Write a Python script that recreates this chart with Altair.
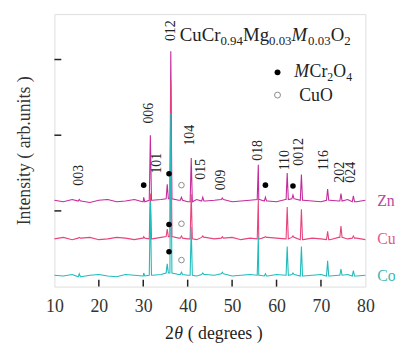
import altair as alt
import pandas as pd

# ---------------- data ----------------
grid_2theta = [10, 12, 14, 16, 18, 20, 22, 24, 26, 28, 30, 32, 34, 36, 38, 40, 42, 44,
               46, 48, 50, 52, 54, 56, 58, 60, 62, 64, 66, 68, 70, 72, 74, 76, 78, 80]
noise_zn = [1, -1, 2, 0, -2, 1, 2, -1, 0, 2, -1, 1, 2, 3, 1, -1, 2, 0,
            1, 2, -1, 0, 1, 2, 0, -1, 2, 3, 1, 0, -1, 1, 0, 2, -1, 1]
noise_cu = [0, 2, -1, 1, 2, -1, 0, 2, 1, -1, 1, 0, 2, 3, 1, 0, -1, 2,
            0, 1, 2, -1, 1, 0, 2, 1, 0, 2, -1, 1, 0, -1, 2, 0, 1, -1]
noise_co = [1, 0, 2, -1, 1, 2, 0, -1, 2, 1, 0, 1, 2, 4, 2, 1, 0, 2,
            1, 3, 0, 1, 2, 1, 0, 2, 1, 2, 0, 1, 2, 0, 1, 2, 0, 1]

peak_pos = [15.6, 30.1, 31.6, 35.4, 36.2, 38.6, 40.8, 43.4, 47.8, 55.9, 57.5,
            62.4, 63.7, 65.6, 71.5, 74.5, 77.3]
h_zn = [2, 5, 87, 22, 198, 5, 57, 5, 4, 48, 5, 37, 8, 35, 16, 10, 7]
h_cu = [2, 3, 60, 13, 209, 4, 59, 4, 3, 52, 3, 42, 4, 39, 10, 17, 4]
h_co = [3, 4, 98, 16, 215, 5, 65, 4, 5, 52, 3, 39, 4, 39, 20, 9, 7]

samples = ["Zn", "Cu", "Co"]
offsets = [113, 63, 14]
colors = ["#c42a9c", "#e8437c", "#20bcbc"]
label_colors = ["#b4489e", "#e4588a", "#35bab8"]

hkl = ["003", "006", "101", "012", "104", "015", "009", "018", "110", "0012",
       "116", "202", "024"]
hkl_x = [15.6, 31.4, 33.0, 36.2, 40.5, 43.1, 47.6, 55.9, 62.0, 65.1, 70.6, 74.2, 76.7]
hkl_y = [147, 229, 163, 338, 200, 155, 141, 180, 167, 178, 167, 151, 151]

spinel_x = [30.1, 35.8, 57.5, 63.7, 35.8, 35.8]
spinel_y = [134, 149, 134, 133, 82, 46]
cuo_x = [38.6, 38.6, 38.6]
cuo_y = [134, 83, 35]

x_ticks = [10, 20, 30, 40, 50, 60, 70, 80]
y_ticks = [100, 200, 300]

# ---------------- build tables ----------------
def pattern(offset, noise, heights):
    rows = [(x, offset + n) for x, n in zip(grid_2theta, noise)]
    for p, h in zip(peak_pos, heights):
        i = min(range(len(grid_2theta)), key=lambda k: abs(grid_2theta[k] - p))
        base = offset + noise[i]
        rows += [(p - 0.25, base), (p, offset + h), (p + 0.25, base)]
    rows.sort()
    return pd.DataFrame(rows, columns=["tt", "I"])

noises = [noise_zn, noise_cu, noise_co]
heights = [h_zn, h_cu, h_co]

W, H = 315, 276
FONT = "Liberation Serif"
xs = alt.Scale(domain=[10, 80], nice=False, zero=False)
ys = alt.Scale(domain=[0, 360], nice=False, zero=False)

X = alt.X("tt:Q", scale=xs,
          axis=alt.Axis(values=x_ticks, title=None, ticks=False, tickSize=0, domain=False,
                        grid=False, labelFont=FONT, labelFontSize=18, labelColor="#333",
                        labelPadding=11, labelFlush=False))
Y = alt.Y("I:Q", scale=ys,
          axis=alt.Axis(values=y_ticks, labels=False, ticks=False, tickSize=0, domain=False,
                        grid=False, title="Intensity ( arb.units )", titleFont=FONT,
                        titleFontSize=18, titleFontWeight="normal", titleColor="#333",
                        titlePadding=21))

layers = []
for s, off, nz, hh, c in zip(samples, offsets, noises, heights, colors):
    df = pattern(off, nz, hh)
    layers.append(alt.Chart(df).mark_line(color=c, strokeWidth=1.1).encode(x=X, y=Y))

# inward ticks
xt = pd.DataFrame({"tt": x_ticks[1:-1]})
layers.append(alt.Chart(xt).mark_rule(color="#222", strokeWidth=1.5).encode(
    x=alt.X("tt:Q", scale=xs), y=alt.value(H), y2=alt.value(H - 7)))
yt = pd.DataFrame({"I": y_ticks})
layers.append(alt.Chart(yt).mark_rule(color="#222", strokeWidth=1.5).encode(
    y=alt.Y("I:Q", scale=ys), x=alt.value(0), x2=alt.value(7)))

# phase markers
sp = pd.DataFrame({"tt": spinel_x, "I": spinel_y})
layers.append(alt.Chart(sp).mark_point(filled=True, shape="circle", size=32, color="black",
                                       opacity=1).encode(
    x=alt.X("tt:Q", scale=xs), y=alt.Y("I:Q", scale=ys)))
co = pd.DataFrame({"tt": cuo_x, "I": cuo_y})
layers.append(alt.Chart(co).mark_point(filled=False, shape="circle", size=32, color="#8a8a8a",
                                       strokeWidth=1, opacity=1).encode(
    x=alt.X("tt:Q", scale=xs), y=alt.Y("I:Q", scale=ys)))

# hkl labels
hd = pd.DataFrame({"tt": hkl_x, "I": hkl_y, "t": hkl})
layers.append(alt.Chart(hd).mark_text(angle=270, font=FONT, fontSize=14, color="#222",
                                      align="center", baseline="middle").encode(
    x=alt.X("tt:Q", scale=xs), y=alt.Y("I:Q", scale=ys), text="t:N"))

# sample labels on the right
sd = pd.DataFrame({"I": offsets, "t": samples, "c": label_colors})
layers.append(alt.Chart(sd).mark_text(font=FONT, fontSize=16, align="left",
                                      baseline="middle").encode(
    x=alt.value(W + 12), y=alt.Y("I:Q", scale=ys), text="t:N",
    color=alt.Color("c:N", scale=None)))

# composed texts with subscripts: (text, fontsize, italic, dx, dy)
def compose(pieces, x0, y0):
    rows, x = [], x0
    for t, fs, it, w, dy in pieces:
        rows.append({"t": t, "fs": fs, "st": "italic" if it else "normal", "x": x, "y": y0 + dy})
        x += w
    return rows

title_pieces = [("Cu", 19, False, 22.2, 0), ("Cr", 19, False, 19.0, 0),
                ("0.94", 13, False, 22.8, 4), ("Mg", 19, False, 26.4, 0),
                ("0.03", 13, False, 22.8, 4), ("M", 19, True, 16.8, 0),
                ("0.03", 13, False, 22.8, 4), ("O", 19, False, 13.7, 0),
                ("2", 13, False, 6.5, 4)]
leg1 = [("M", 18, True, 15.5, 0), ("Cr", 18, False, 18.0, 0), ("2", 12, False, 6.0, 4),
        ("O", 18, False, 13.0, 0), ("4", 12, False, 6.0, 4)]
leg2 = [("CuO", 18, False, 34, 0)]
xtitle = [("2", 18, False, 9.5, 0), ("θ", 18, True, 13.5, 0), ("( degrees )", 18, False, 80, 0)]

rows = (compose(title_pieces, 127, 27) + compose(leg1, 243, 64) + compose(leg2, 248, 88)
        + compose(xtitle, 112, 329))
td = pd.DataFrame(rows)
for fs in sorted(td.fs.unique()):
    for st in ["normal", "italic"]:
        sub = td[(td.fs == fs) & (td.st == st)]
        if len(sub) == 0:
            continue
        layers.append(alt.Chart(sub).mark_text(font=FONT, fontSize=int(fs), fontStyle=st,
                                               color="#222", align="left",
                                               baseline="alphabetic").encode(
            x=alt.X("x:Q", scale=None), y=alt.Y("y:Q", scale=None), text="t:N"))

# legend symbols
lg = pd.DataFrame({"x": [226, 226], "y": [59, 82], "f": ["filled", "open"]})
layers.append(alt.Chart(lg[lg.f == "filled"]).mark_point(filled=True, shape="circle", size=36,
                                                        color="black", opacity=1).encode(
    x=alt.X("x:Q", scale=None), y=alt.Y("y:Q", scale=None)))
layers.append(alt.Chart(lg[lg.f == "open"]).mark_point(filled=False, shape="circle", size=36,
                                                      color="#8a8a8a", strokeWidth=1,
                                                      opacity=1).encode(
    x=alt.X("x:Q", scale=None), y=alt.Y("y:Q", scale=None)))

chart = alt.layer(*layers).properties(
    width=W, height=H,
    autosize=alt.AutoSizeParams(type="none"),
    padding={"left": 47, "top": 4, "right": 30, "bottom": 58},
).configure_view(stroke="#222", strokeWidth=1.5).configure(background="white")

chart.save("out.html", embed_options={"renderer": "svg", "actions": False})
